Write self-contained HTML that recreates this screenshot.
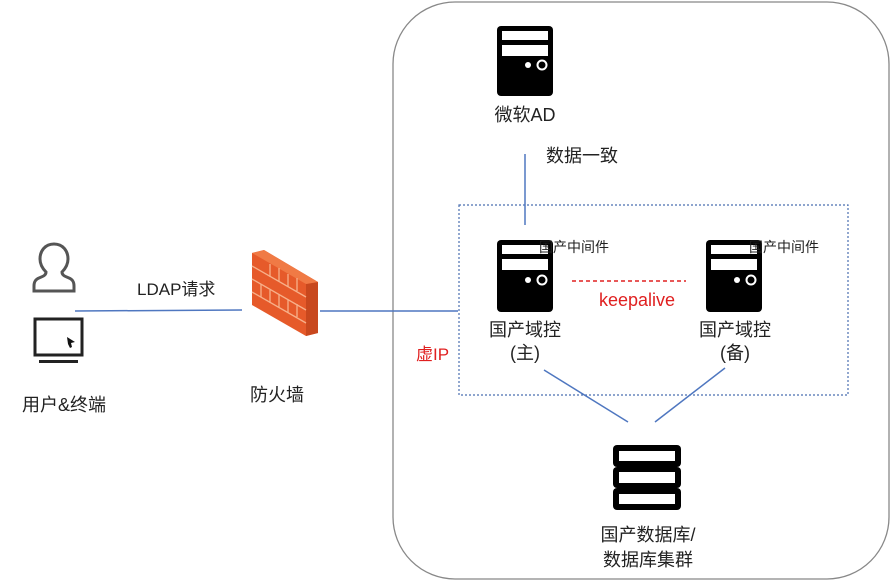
<!DOCTYPE html>
<html><head><meta charset="utf-8"><style>
html,body{margin:0;padding:0;background:#fff;}
svg text{font-family:"Liberation Sans","Noto Sans CJK SC",sans-serif;fill:#222;}
</style></head><body>
<svg width="894" height="583" viewBox="0 0 894 583" xmlns="http://www.w3.org/2000/svg">
<rect x="393" y="2" width="496" height="577" rx="62" fill="none" stroke="#888" stroke-width="1.3"/>
<rect x="459" y="205" width="389" height="190" fill="none" stroke="#4a6fb0" stroke-width="1.2" stroke-dasharray="2,2"/>
<g stroke="#4f77c0" stroke-width="1.5">
<line x1="75" y1="311" x2="242" y2="310"/>
<line x1="320" y1="311" x2="458" y2="311"/>
<line x1="525" y1="154" x2="525" y2="225"/>
<line x1="544" y1="370" x2="628" y2="422"/>
<line x1="725" y1="368" x2="655" y2="422"/>
</g>
<line x1="572" y1="281" x2="686" y2="281" stroke="#e02020" stroke-width="1.5" stroke-dasharray="4,3"/>
<defs>
<g id="srv">
<rect x="0" y="0" width="56" height="70" rx="4" fill="#000"/>
<rect x="5" y="5" width="46" height="9" fill="#fff"/>
<rect x="5" y="19" width="46" height="11" fill="#fff"/>
<circle cx="31" cy="39" r="3" fill="#fff"/>
<circle cx="45" cy="39" r="4.5" fill="none" stroke="#fff" stroke-width="2"/>
</g>
<g id="srv2">
<rect x="0" y="0" width="56" height="72" rx="4" fill="#000"/>
<rect x="5" y="5" width="46" height="9" fill="#fff"/>
<rect x="5" y="19" width="46" height="11" fill="#fff"/>
<circle cx="31" cy="40" r="3" fill="#fff"/>
<circle cx="45" cy="40" r="4.5" fill="none" stroke="#fff" stroke-width="2"/>
</g>
</defs>
<use href="#srv" x="497" y="26"/>
<use href="#srv2" x="497" y="240"/>
<use href="#srv2" x="706" y="240"/>
<g>
<rect x="613" y="445" width="68" height="22" rx="4" fill="#000"/>
<rect x="613" y="467" width="68" height="21" rx="4" fill="#000"/>
<rect x="613" y="488" width="68" height="22" rx="4" fill="#000"/>
<rect x="619" y="451" width="56" height="10" fill="#fff"/>
<rect x="619" y="472" width="56" height="11" fill="#fff"/>
<rect x="619" y="494" width="56" height="10" fill="#fff"/>
</g>
<path d="M54 244 c-9 0 -14 7 -14 15 c0 6 3 10 6 13 c0 3 -2 4 -7 6 c-5 2 -5 6 -5 8 v5 h40 v-5 c0 -2 0 -6 -5 -8 c-5 -2 -7 -3 -7 -6 c3 -3 6 -7 6 -13 c0 -8 -5 -15 -14 -15z" fill="none" stroke="#555" stroke-width="3"/>
<rect x="35" y="319" width="47" height="36" fill="none" stroke="#222" stroke-width="3"/>
<rect x="39" y="360" width="39" height="3" fill="#222"/>
<polygon points="67,337 75,342 71,343 72,347 70,348 68,344 67,337" fill="#111"/>
<polygon points="252,253 264,250 318,282 318,333 306,336 252,305" fill="#e65a2a"/>
<polygon points="306,284 318,282 318,333 306,336" fill="#c8481e"/>
<polygon points="252,253 264,250 318,282 306,284" fill="#f07a45"/>
<g stroke="#f7b08a" stroke-width="1.3" fill="none">
<polyline points="252,266 306,297"/><polyline points="252,279 306,310"/><polyline points="252,292 306,323"/>
<line x1="270" y1="264" x2="270" y2="277"/><line x1="288" y1="274" x2="288" y2="287"/>
<line x1="261" y1="284" x2="261" y2="297"/><line x1="279" y1="294" x2="279" y2="307"/><line x1="297" y1="304" x2="297" y2="317"/>
<line x1="270" y1="290" x2="270" y2="303"/><line x1="288" y1="300" x2="288" y2="313"/>
<line x1="279" y1="268" x2="279" y2="281"/><line x1="297" y1="278" x2="297" y2="291"/>
</g>
<text x="525" y="121" font-size="18" text-anchor="middle">微软AD</text>
<text x="546" y="162" font-size="18">数据一致</text>
<text x="539" y="252" font-size="14">国产中间件</text>
<text x="749" y="252" font-size="14">国产中间件</text>
<text x="637" y="306" font-size="18" text-anchor="middle" style="fill:#e02020">keepalive</text>
<text x="525" y="336" font-size="18" text-anchor="middle">国产域控</text>
<text x="525" y="359" font-size="18" text-anchor="middle">(主)</text>
<text x="735" y="336" font-size="18" text-anchor="middle">国产域控</text>
<text x="735" y="359" font-size="18" text-anchor="middle">(备)</text>
<text x="416" y="360" font-size="17" style="fill:#e02020">虚IP</text>
<text x="137" y="295" font-size="17">LDAP请求</text>
<text x="22" y="411" font-size="18">用户&amp;终端</text>
<text x="250" y="401" font-size="18">防火墙</text>
<text x="648" y="541" font-size="18" text-anchor="middle">国产数据库/</text>
<text x="648" y="566" font-size="18" text-anchor="middle">数据库集群</text>
</svg>
</body></html>
